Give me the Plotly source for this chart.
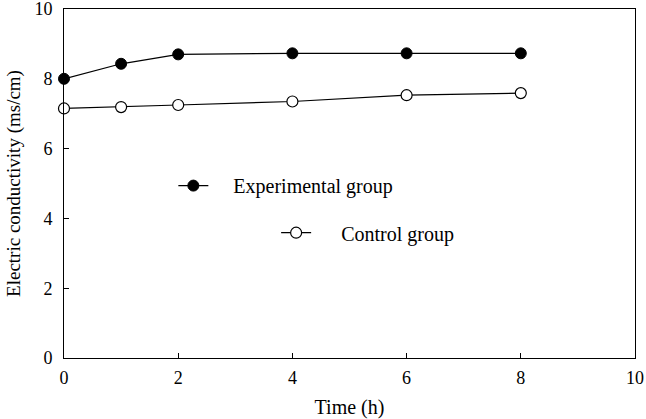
import plotly.graph_objects as go

time_h = [0, 1, 2, 4, 6, 8]
experimental = [8.00, 8.43, 8.70, 8.73, 8.73, 8.73]
experimental_err = [0.06, 0.05, 0.05, 0.04, 0.07, 0.04]
control = [7.15, 7.19, 7.25, 7.35, 7.53, 7.59]
control_err = [0.09, 0.10, 0.06, 0.06, 0.07, 0.06]

x_ticks = [0, 2, 4, 6, 8, 10]
y_ticks = [0, 2, 4, 6, 8, 10]

FONT = "Liberation Serif"
NB = "\u00a0"

fig = go.Figure()
fig.add_trace(go.Scatter(
    x=time_h, y=experimental, mode="lines+markers", name=NB * 4 + "Experimental group",
    line=dict(color="black", width=1.2),
    marker=dict(symbol="circle", size=11, color="black", line=dict(color="black", width=1)),
    error_y=dict(type="data", array=experimental_err, color="black", thickness=1, width=4),
    legend="legend", showlegend=True, cliponaxis=False,
))
fig.add_trace(go.Scatter(
    x=time_h, y=control, mode="lines+markers", name=NB * 5 + "Control group",
    line=dict(color="black", width=1.2),
    marker=dict(symbol="circle", size=11, color="white", line=dict(color="black", width=1.2)),
    error_y=dict(type="data", array=control_err, color="black", thickness=1, width=4),
    legend="legend2", showlegend=True, cliponaxis=False,
))

fig.update_layout(
    template="none",
    width=646, height=419,
    margin=dict(l=64, r=11, t=9, b=61, autoexpand=False),
    showlegend=True,
    paper_bgcolor="white", plot_bgcolor="white",
    font=dict(family=FONT, size=18, color="black"),
    legend=dict(x=0.1915, y=0.494, xanchor="left", yanchor="middle",
                bgcolor="rgba(0,0,0,0)", font=dict(family=FONT, size=20, color="black")),
    legend2=dict(x=0.3715, y=0.359, xanchor="left", yanchor="middle",
                 bgcolor="rgba(0,0,0,0)", font=dict(family=FONT, size=20, color="black")),
    xaxis=dict(range=[0, 10], tickvals=x_ticks, ticktext=[str(v) for v in x_ticks],
               automargin=False,
               ticks="inside", ticklen=5, tickcolor="black", showline=True, linecolor="black",
               linewidth=1, mirror=True, showgrid=False, zeroline=False,
               tickfont=dict(family=FONT, size=18, color="black"), ticklabelstandoff=3,
               ticklabeloverflow="allow",
               title=dict(text="Time (h)", font=dict(family=FONT, size=20, color="black"), standoff=17)),
    yaxis=dict(range=[0, 10], tickvals=y_ticks, ticktext=[str(v) for v in y_ticks],
               automargin=False,
               ticks="inside", ticklen=5, tickcolor="black", showline=True, linecolor="black",
               linewidth=1, mirror=True, showgrid=False, zeroline=False,
               tickfont=dict(family=FONT, size=18, color="black"), ticklabelstandoff=7,
               ticklabeloverflow="allow",
               title=dict(text="Electric conductivity (ms/cm)", font=dict(family=FONT, size=19, color="black"), standoff=8)),
)

fig.write_html("out.html", config={"displayModeBar": False},
               post_script="document.body.style.margin='0';document.body.style.overflow='hidden';")
